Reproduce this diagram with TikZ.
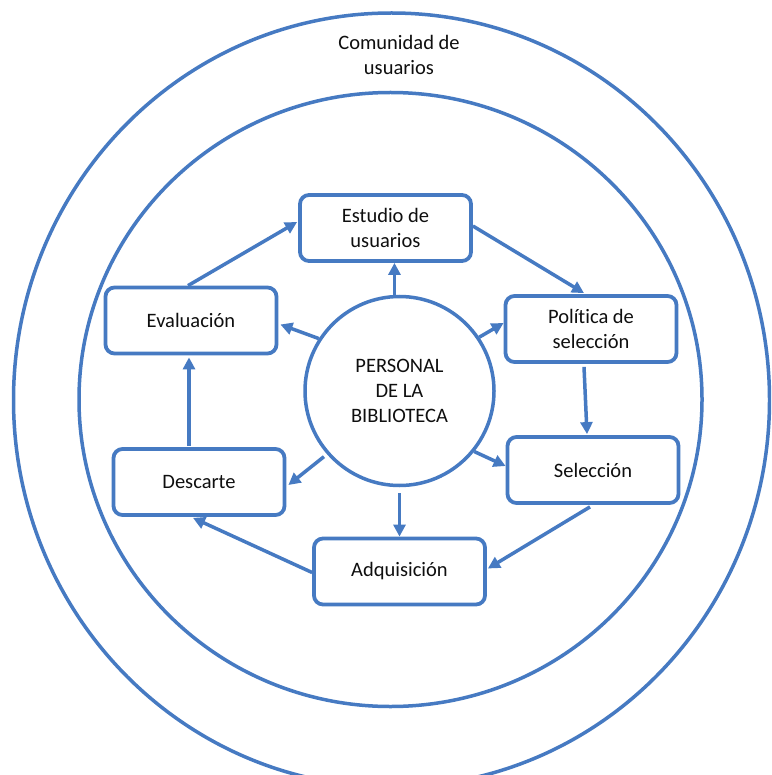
\documentclass[tikz,border=0pt]{standalone}
\usepackage{fontspec}
\setmainfont[Ligatures=NoCommon]{Carlito}
\usetikzlibrary{arrows.meta,calc}
\definecolor{lineblue}{RGB}{70,122,194}
\definecolor{txt}{RGB}{15,15,15}
\begin{document}
\begin{tikzpicture}[x=1pt,y=-1pt,
  lbl/.style={font=\fontsize{20.5}{25}\selectfont, text=txt, align=center, inner sep=0pt},
  box/.style={lbl, draw=lineblue, line width=3.8pt, rounded corners=9pt, fill=white,
    minimum width=171pt, minimum height=66pt},
  hub/.style={lbl, draw=lineblue, line width=3.5pt, circle, minimum size=189pt},
  ring/.style={draw=lineblue, line width=3.5pt},
  flow/.style={draw=lineblue, line width=3.5pt, -{Triangle[length=12pt,width=12pt]}}]
\useasboundingbox (0,0) rectangle (771,775);
\clip (0,0) rectangle (771,775);
\fill[white] (0,0) rectangle (771,775);
% rings
\draw[ring] (391.5,400) ellipse [x radius=378, y radius=387];
\draw[ring] (390.5,399.5) ellipse [x radius=311.5, y radius=307];
\node[lbl] (com) at (399,55) {Comunidad de\\usuarios};
% nodes
\node[hub] (pers) at (399.5,391) {PERSONAL\\DE LA\\BIBLIOTECA};
\node[box] (est) at (385.5,228) {Estudio de\\usuarios};
\node[box] (pol) at (591,329) {Política de\\selección};
\node[box] (sel) at (593,470) {Selección};
\node[box] (adq) at (399.5,571.5) {Adquisición};
\node[box] (desc) at (199,482) {Descarte};
\node[box] (eval) at (191,320.5) {Evaluación};
% cycle
\draw[flow] ($(eval.north)+(-3,0)$) -- ($(est.west)+(-1,-6)$);
\draw[flow] ($(est.east)+(0,-2)$) -- ($(pol.north)+(-7,-1)$);
\draw[flow] ($(pol.south)+(-7,3)$) -- ($(sel.north)+(-6,-1)$);
\draw[flow] ($(sel.south)+(-3,2)$) -- ($(adq.east)+(1,-3)$);
\draw[flow] ($(adq.west)+(0,1)$) -- ($(desc.south)+(-6,1)$);
\draw[flow] ($(desc.north)+(-10,-1)$) -- ($(eval.south)+(-2,2)$);
% from hub
\draw[flow] (pers.93) -- (pers.93 |- est.south);
\draw[flow] (pers.147) -- ($(eval.east)+(2,4)$);
\draw[flow] (pers.34) -- ($(pol.west)+(0,-6)$);
\draw[flow] (pers.-39) -- ($(sel.west)+(0,-4)$);
\draw[flow] ($(pers.center)!1.04!(pers.221)$) -- ($(desc.east)+(2,3)$);
\draw[flow] ($(pers.south)+(0,6)$) -- (pers.south |- adq.north);
\end{tikzpicture}
\end{document}
